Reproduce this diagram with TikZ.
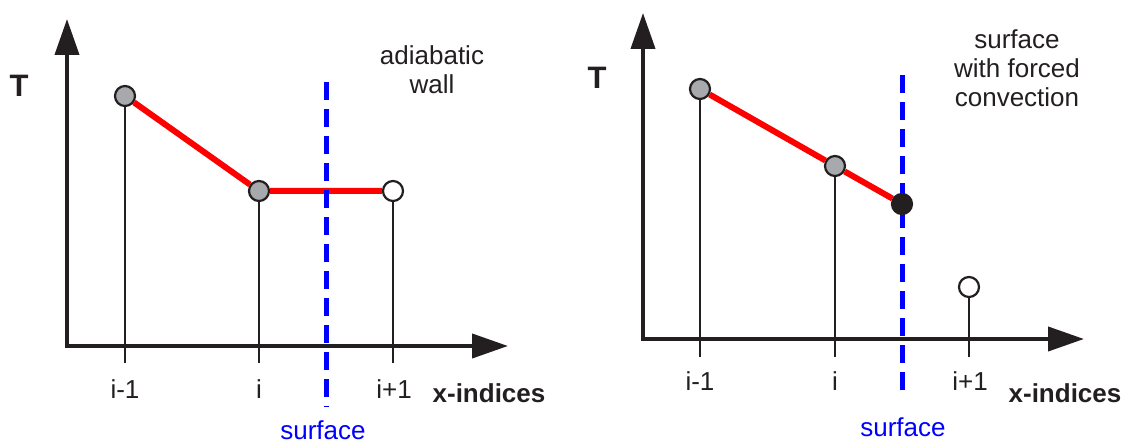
\documentclass[tikz,border=0pt]{standalone}
\usepackage{fontspec}
\setmainfont{Liberation Sans}
\usepackage{tikz}
\usetikzlibrary{arrows.meta, positioning}
\definecolor{inkblack}{HTML}{231F20}
\definecolor{ptgray}{HTML}{A7A9AC}
\tikzstyle{axis} = [line width=2pt, draw=inkblack, {Triangle[length=18pt,width=12pt]}-{Triangle[length=18pt,width=12pt]}]
\tikzstyle{tickline} = [line width=0.8pt, draw=inkblack]
\tikzstyle{temp} = [line width=3pt, draw=red]
\tikzstyle{wall} = [line width=2.5pt, draw=blue, dash pattern=on 9pt off 4.5pt]
\tikzstyle{inner} = [circle, minimum size=10pt, inner sep=0pt, draw=inkblack, line width=1.1pt, fill=ptgray]
\tikzstyle{ghost} = [inner, fill=white]
\tikzstyle{surfpt} = [inner, fill=inkblack]
\tikzstyle{idx} = [text=inkblack, inner sep=0pt, font=\fontsize{13}{14.5}\selectfont]
\tikzstyle{note} = [idx, align=center]
\tikzstyle{axlabel} = [text=inkblack, inner sep=0pt, font=\bfseries\fontsize{13}{15}\selectfont]
\tikzstyle{tlabel} = [axlabel, font=\bfseries\fontsize{15.5}{17}\selectfont]

\begin{document}
\begin{tikzpicture}[x=0.5pt, y=-0.5pt]
        \useasboundingbox (0,0) rectangle (1130,443);

        % adiabatic wall
        \coordinate (lo) at (67,346);
        \coordinate (ly) at (67,19);
        \coordinate (lx) at (508,346);
        \draw [axis] (ly) -- (lo) -- (lx);

        \node (l1) [inner] at (125,96) {};
        \node (l2) [inner] at (259,191) {};
        \node (l3) [ghost] at (393,191) {};
        \coordinate (l1b) at (125,363);
        \coordinate (l2b) at (259,363);
        \coordinate (l3b) at (393,363);
        \draw [temp] (l1) -- (l2) -- (l3);
        \draw [tickline] (l1) -- (l1b);
        \draw [tickline] (l2) -- (l2b);
        \draw [tickline] (l3) -- (l3b);

        \coordinate (lwt) at (326,82);
        \coordinate (lwb) at (326,407);
        \draw [wall] (lwt) -- (lwb);

        \node (lT) [tlabel] at (19,86) {T};
        \node (l1t) [idx] at (125,389) {i-1};
        \node (l2t) [idx] at (259,389) {i};
        \node (l3t) [idx] at (394,389) {i+1};
        \node (lxt) [axlabel] at (489,393) {x-indices};
        \node (lsurf) [idx, text=blue] at (323,430) {surface};
        \node (lnote) [note] at (432,70) {adiabatic\\wall};

        % forced convection
        \coordinate (ro) at (643,339);
        \coordinate (ry) at (643,13);
        \coordinate (rx) at (1084,339);
        \draw [axis] (ry) -- (ro) -- (rx);

        \coordinate (rwt) at (902,75);
        \coordinate (rwb) at (902,399);
        \draw [wall] (rwt) -- (rwb);

        \node (r1) [inner] at (700,89) {};
        \node (r2) [inner] at (835,166) {};
        \node (r3) [surfpt] at (902,204) {};
        \node (r4) [ghost] at (969,287) {};
        \coordinate (r1b) at (700,357);
        \coordinate (r2b) at (835,357);
        \coordinate (r4b) at (969,357);
        \draw [temp] (r1) -- (r2) -- (r3);
        \draw [tickline] (r1) -- (r1b);
        \draw [tickline] (r2) -- (r2b);
        \draw [tickline] (r4) -- (r4b);

        \node (rT) [tlabel] at (597,78) {T};
        \node (r1t) [idx] at (700,381) {i-1};
        \node (r2t) [idx] at (835,381) {i};
        \node (r4t) [idx] at (970,381) {i+1};
        \node (rxt) [axlabel] at (1065,393) {x-indices};
        \node (rsurf) [idx, text=blue] at (903,427) {surface};
        \node (rnote) [note] at (1017,68) {surface\\with forced\\convection};
    \end{tikzpicture}
\end{document}
